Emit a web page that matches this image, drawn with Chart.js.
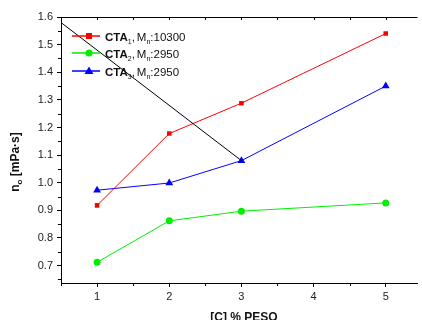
<!DOCTYPE html>
<html>
<head>
<meta charset="utf-8">
<script src="https://cdn.jsdelivr.net/npm/chart.js@4/dist/chart.umd.min.js"></script>
<style>
html,body{margin:0;padding:0;background:#fff;overflow:hidden;}
#c{display:block;}
</style>
</head>
<body>
<canvas id="c" width="422" height="320"></canvas>
<script>
// ---- data ----
const xValues = [1, 2, 3, 5];
const cta1 = [0.918, 1.178, 1.288, 1.54];
const cta2 = [0.712, 0.862, 0.897, 0.927];
const cta3 = [0.973, 0.999, 1.08, 1.35];
const guideX = [0.5, 3];
const guideY = [1.58, 1.08];
const xTicks = [1, 2, 3, 4, 5];
const yTicks = [0.7, 0.8, 0.9, 1.0, 1.1, 1.2, 1.3, 1.4, 1.5, 1.6];
const legendItems = [
  {sub: '1', mw: '10300', color: '#ff0000', style: 'rect'},
  {sub: '2', mw: '2950', color: '#00ee00', style: 'circle'},
  {sub: '3', mw: '2950', color: '#0000ff', style: 'triangle'}
];
const xTitle = '[C] % PESO';
const yTitle = ['n', 'o', ' [mPa·s]'];

const toPts = (xs, ys) => xs.map((x, i) => ({x: x, y: ys[i]}));
const FONT = '"Liberation Sans", Arial, sans-serif';

const decor = {
  id: 'decor',
  afterDraw(chart) {
    const ctx = chart.ctx;
    const a = chart.chartArea;
    const xs = chart.scales.x, ys = chart.scales.y;
    ctx.save();
    ctx.strokeStyle = '#000';
    ctx.lineWidth = 1;
    // top frame line
    ctx.beginPath();
    ctx.moveTo(a.left, a.top + 0.5);
    ctx.lineTo(a.right, a.top + 0.5);
    ctx.stroke();
    // minor/top x ticks
    for (let v = 0.5; v <= 5.5; v += 0.5) {
      const px = Math.round(xs.getPixelForValue(v)) + 0.5;
      if (px < a.left || px > a.right) continue;
      const major = Math.abs(v - Math.round(v)) < 1e-6;
      ctx.beginPath();
      ctx.moveTo(px, a.top);
      ctx.lineTo(px, a.top + 3);
      ctx.stroke();
      if (!major) {
        ctx.beginPath();
        ctx.moveTo(px, a.bottom);
        ctx.lineTo(px, a.bottom + 3);
        ctx.stroke();
      }
    }
    // minor y ticks
    for (let v = 0.65; v < 1.6; v += 0.1) {
      const py = Math.round(ys.getPixelForValue(v)) + 0.5;
      if (py < a.top || py > a.bottom) continue;
      ctx.beginPath();
      ctx.moveTo(a.left, py);
      ctx.lineTo(a.left - 3, py);
      ctx.stroke();
    }
    // legend
    const lx0 = 72, lx1 = 100, tx = 105;
    const rows = [36, 53, 71];
    legendItems.forEach((it, i) => {
      const y = rows[i];
      ctx.strokeStyle = it.color;
      ctx.fillStyle = it.color;
      ctx.lineWidth = 1.5;
      ctx.beginPath();
      ctx.moveTo(lx0, y);
      ctx.lineTo(lx1, y);
      ctx.stroke();
      const mx = 89;
      ctx.beginPath();
      if (it.style === 'rect') ctx.rect(mx - 3, y - 3, 6, 6);
      else if (it.style === 'circle') ctx.arc(mx, y, 3.5, 0, Math.PI * 2);
      else { ctx.moveTo(mx, y - 4.5); ctx.lineTo(mx + 4.5, y + 3); ctx.lineTo(mx - 4.5, y + 3); ctx.closePath(); }
      ctx.fill();
      ctx.fillStyle = '#111';
      ctx.textBaseline = 'alphabetic';
      let x = tx;
      const base = y + 5;
      ctx.font = 'bold 11.5px ' + FONT;
      ctx.fillText('CTA', x, base); x += ctx.measureText('CTA').width;
      ctx.font = '7px ' + FONT;
      ctx.fillText(it.sub, x, base + 3); x += ctx.measureText(it.sub).width;
      ctx.font = '11.5px ' + FONT;
      ctx.fillText(',', x, base); x += ctx.measureText(',').width + 2;
      ctx.fillText('M', x, base); x += ctx.measureText('M').width;
      ctx.font = '7px ' + FONT;
      ctx.fillText('n', x, base + 3); x += ctx.measureText('n').width;
      ctx.font = '11.5px ' + FONT;
      ctx.fillText(':' + it.mw, x, base);
    });
    // x title
    ctx.fillStyle = '#111';
    ctx.font = 'bold 12px ' + FONT;
    ctx.textAlign = 'center';
    ctx.textBaseline = 'alphabetic';
    ctx.fillText(xTitle, 244, 321);
    // y title
    ctx.translate(19, 162);
    ctx.rotate(-Math.PI / 2);
    ctx.textAlign = 'left';
    ctx.font = 'bold 12px ' + FONT;
    const w0 = ctx.measureText(yTitle[0]).width;
    ctx.font = 'bold 8px ' + FONT;
    const w1 = ctx.measureText(yTitle[1]).width;
    ctx.font = 'bold 12px ' + FONT;
    const w2 = ctx.measureText(yTitle[2]).width;
    let sx = -(w0 + w1 + w2) / 2;
    ctx.fillText(yTitle[0], sx, 0); sx += w0;
    ctx.font = 'bold 8px ' + FONT;
    ctx.fillText(yTitle[1], sx, 3); sx += w1;
    ctx.font = 'bold 12px ' + FONT;
    ctx.fillText(yTitle[2], sx, 0);
    ctx.restore();
  }
};

new Chart(document.getElementById('c'), {
  type: 'line',
  data: {
    datasets: [
      {data: toPts(guideX, guideY), borderColor: '#000', borderWidth: 1, pointRadius: 0, fill: false},
      {data: toPts(xValues, cta1), borderColor: '#ff0000', backgroundColor: '#ff0000', borderWidth: 1, pointStyle: 'rect', pointRadius: 3.2, pointBorderWidth: 0},
      {data: toPts(xValues, cta2), borderColor: '#00ee00', backgroundColor: '#00ee00', borderWidth: 1, pointStyle: 'circle', pointRadius: 3.5, pointBorderWidth: 0},
      {data: toPts(xValues, cta3), borderColor: '#0000ff', backgroundColor: '#0000ff', borderWidth: 1, pointStyle: 'triangle', pointRadius: 4.5, pointBorderWidth: 0}
    ]
  },
  options: {
    responsive: false,
    animation: false,
    devicePixelRatio: 1,
    layout: {padding: {top: 17, right: 0, left: 0, bottom: 0}},
    plugins: {legend: {display: false}, tooltip: {enabled: false}},
    scales: {
      x: {
        type: 'linear', min: 0.5, max: 5.44,
        afterBuildTicks: s => { s.ticks = xTicks.map(v => ({value: v})); },
        afterFit: s => { s.height = 37; },
        grid: {drawOnChartArea: false, drawTicks: true, tickLength: 4, color: '#000', tickWidth: 1},
        border: {display: true, color: '#000', width: 1},
        ticks: {color: '#222', font: {family: FONT, size: 11}, padding: 3, callback: v => String(v)}
      },
      y: {
        type: 'linear', min: 0.637, max: 1.6,
        afterBuildTicks: s => { s.ticks = yTicks.map(v => ({value: v})); },
        afterFit: s => { s.width = 61; },
        grid: {drawOnChartArea: false, drawTicks: true, tickLength: 4, color: '#000', tickWidth: 1},
        border: {display: true, color: '#000', width: 1},
        ticks: {color: '#222', font: {family: FONT, size: 11}, padding: 4, callback: v => v.toFixed(1)}
      }
    }
  },
  plugins: [decor]
});
</script>
</body>
</html>
